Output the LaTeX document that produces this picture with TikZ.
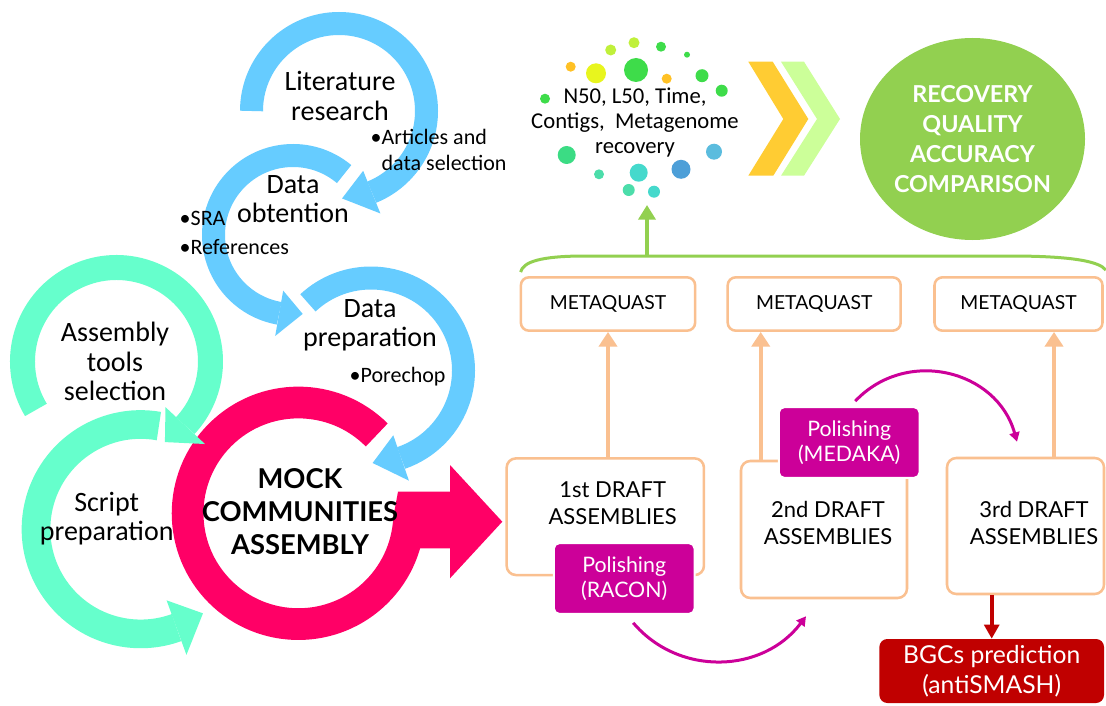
\documentclass[tikz,border=0pt]{standalone}
\usepackage{fontspec}
\setmainfont{Lato}
\newfontfamily\calfont{Carlito}
\usepackage{tikz}
\usetikzlibrary{arrows.meta}
\usetikzlibrary{shapes.geometric,calc}
\definecolor{ringblue}{RGB}{102,204,255}
\definecolor{ringteal}{RGB}{102,255,204}
\definecolor{mockpink}{RGB}{255,0,102}
\definecolor{peach}{RGB}{250,192,144}
\definecolor{polmagenta}{RGB}{204,0,153}
\definecolor{bgcred}{RGB}{192,0,0}
\definecolor{goalgreen}{RGB}{146,208,80}
\definecolor{chevorange}{RGB}{255,204,51}
\definecolor{chevgreen}{RGB}{204,255,153}
\definecolor{dotyellow}{RGB}{232,245,30}
\definecolor{dotorange}{RGB}{255,193,37}
\definecolor{dotlime}{RGB}{192,240,58}
\definecolor{dotgreen}{RGB}{62,220,74}
\definecolor{dotmint}{RGB}{59,220,132}
\definecolor{dotsea}{RGB}{76,221,170}
\definecolor{dotturq}{RGB}{69,217,204}
\definecolor{dotblue}{RGB}{77,159,216}
\definecolor{dotsky}{RGB}{91,188,222}
% #1 centre, #2 mid radius, #3 band width, #4 start angle, #5 end angle,
% #6 angle of the tip, #7 half base of the head, #8 colour
\newcommand{\cyclearrow}[8]{%
  \draw[#8,line width=#3] ($#1+(#4:#2)$) arc[start angle=#4,end angle=#5,radius=#2];
  \fill[#8] ($#1+({#5}:{#2-#7})$) -- ($#1+({#5}:{#2+#7})$)
    -- ($#1+({#6}:{#2})$) -- cycle;%
}

\begin{document}
\begin{tikzpicture}[x=0.75pt,y=-0.75pt,
    cycletext/.style={font=\calfont\fontsize{21}{22}\selectfont,align=center},
    bullettext/.style={font=\calfont\fontsize{16.5}{20}\selectfont,align=left,anchor=west},
    mocktext/.style={font=\bfseries\fontsize{20.5}{24.75}\selectfont,align=center},
    mqbox/.style={draw=peach,line width=1.9pt,rounded corners=6pt,minimum height=40pt,
      font=\fontsize{14.5}{17}\selectfont},
    draftbox/.style={draw=peach,line width=1.9pt,rounded corners=7pt},
    drafttext/.style={font=\fontsize{16.5}{20.5}\selectfont,align=center},
    polbox/.style={fill=polmagenta,draw=white,line width=1.5pt,rounded corners=4pt,
      text=white,font=\fontsize{16}{18.75}\selectfont,align=center,
      minimum width=105.5pt,minimum height=53pt},
    bgcbox/.style={fill=bgcred,rounded corners=6pt,text=white,align=center,
      font=\fontsize{18.5}{22.5}\selectfont,minimum width=168.5pt,minimum height=48pt},
    goal/.style={ellipse,fill=goalgreen,text=white,align=center,inner sep=0pt,
      font=\bfseries\fontsize{17.5}{22.5}\selectfont,minimum width=168.75pt,minimum height=151.5pt},
    uparrow/.style={peach,line width=3pt,-{Triangle[width=13.5pt,length=11pt]}},
    bgcarrow/.style={bgcred,line width=3pt,-{Triangle[width=11pt,length=10.5pt]}},
    polarrow/.style={polmagenta,line width=2.25pt,-{Triangle[width=7.5pt,length=7pt]}},
    cloudarrow/.style={goalgreen,line width=3pt,-{Triangle[width=12.75pt,length=11pt]}}]
  \useasboundingbox (0,0) rectangle (1106,706);
  \fill[white] (0,0) rectangle (1106,706);

  % the cycle of preparation steps
  \cyclearrow{(339,111)}{87.5}{17.25pt}{180}{428}{448}{23}{ringblue}
  \cyclearrow{(293,235)}{79.5}{17.25pt}{-50}{-260}{-277}{23}{ringblue}
  \cyclearrow{(371,370.5)}{92.5}{17.25pt}{227}{431}{449}{24}{ringblue}
  % assembly ring and its block arrow
  \draw[mockpink,line width=23.8pt] ($(298.4,513.3)+(-45:110.8)$)
    arc[start angle=-45,end angle=-360,radius=110.8];
  \fill[mockpink] (394,513.3) -- (398,491.7) -- (450,491.7) -- (450,465)
    -- (502.3,521.7) -- (450,578.3) -- (450,548.3) -- (410,548.3) -- cycle;
  \cyclearrow{(116.5,361.5)}{94}{18.75pt}{149}{403}{419}{27}{ringteal}
  \cyclearrow{(140.7,529.2)}{104.7}{21.5pt}{-80}{-290}{-306.5}{29}{ringteal}

  \node[cycletext] (littext) at (340,96) {Literature\\research};
  \node[cycletext] (obttext) at (293,199) {Data\\obtention};
  \node[cycletext] (preptext) at (370,325) {Data\\preparation};
  \node[cycletext] (toolstext) at (115,361.7) {Assembly\\tools\\selection};
  \node[cycletext] (scripttext) at (106.7,518.3) {Script\\preparation};
  \node[mocktext] (mocktext) at (300,511.7) {MOCK\\COMMUNITIES\\ASSEMBLY};
  \node[bullettext] (articles) at (366,150) {•Articles and\\\phantom{•}data selection};
  \node[bullettext] (sra) at (175,218) {•SRA};
  \node[bullettext] (refs) at (175,246.7) {•References};
  \node[bullettext] (porechop) at (345,376.7) {•Porechop};

  % metrics cloud
  \foreach \dx/\dy/\dr/\dc in {610.7/50/5.5/dotlime, 634/42.7/5.5/dotlime,
      661/46.7/5/dotgreen, 687/54.7/3/dotgreen, 570.7/66.7/5/dotorange,
      596/73.3/10/dotyellow, 636/70/12/dotgreen, 666.7/78.7/5/dotorange,
      702/75.7/6.5/dotgreen, 721.7/90.7/6/dotgreen, 545/98.7/5/dotgreen,
      566.7/155/9/dotmint, 599/174.3/5/dotsea, 638.7/172.7/9/dotturq,
      681/169.3/9.5/dotblue, 714/151.7/8/dotsky, 628.7/190/6/dotsea,
      654/191.7/6/dotturq}
    \fill[\dc] (\dx,\dy) circle[radius=\dr];
  \node[font=\calfont\fontsize{17}{18.75}\selectfont,align=center] (metrics) at (635,123)
    {N50, L50, Time,\\Contigs,~ Metagenome\\recovery};

  % chevrons and the goal
  \fill[chevorange] (748.3,61.7) -- (772.7,61.7) -- (808.3,119) -- (773.3,175.7)
    -- (748.3,175.7) -- (783.3,119) -- cycle;
  \fill[chevgreen] (781,61.7) -- (804,61.7) -- (840,119) -- (804,175.7)
    -- (781,175.7) -- (817,119) -- cycle;
  \node[goal] (goal) at (972.5,139) {RECOVERY\\QUALITY\\ACCURACY\\COMPARISON};

  % quality checks
  \node[mqbox,minimum width=130.7pt] (mq1) at (608,304) {METAQUAST};
  \node[mqbox,minimum width=129.75pt] (mq2) at (814.2,304) {METAQUAST};
  \node[mqbox,minimum width=126pt] (mq3) at (1018.5,304) {METAQUAST};
  \draw[goalgreen,line width=2.25pt] ($(mq1.north west)+(1,-4)$)
    .. controls (523,262) and (540,256) .. (585,256) -- (1010,256)
    .. controls (1075,256) and (1100,262) .. ($(mq3.north east)+(2,-6)$);
  \coordinate (stem) at (647,256);
  \coordinate (cloudbase) at (647,205);
  \draw[cloudarrow] (stem) -- (cloudbase);

  % draft assemblies
  \node[draftbox,minimum width=148pt,minimum height=87.5pt] (draft1) at (605.3,516.7) {};
  \node[drafttext] (d1text) at (612.7,503) {1st DRAFT\\ASSEMBLIES};
  \node[draftbox,minimum width=124.5pt,minimum height=102.75pt] (draft2) at (824,529.5) {};
  \node[drafttext] (d2text) at (828,523) {2nd DRAFT\\ASSEMBLIES};
  \node[draftbox,minimum width=117.75pt,minimum height=102pt] (draft3) at (1025.5,526) {};
  \node[drafttext] (d3text) at (1034,523) {3rd DRAFT\\ASSEMBLIES};
  \node[polbox] (racon) at (624.2,578.5) {Polishing\\(RACON)};
  \node[polbox] (medaka) at (849.2,442.5) {Polishing\\(MEDAKA)};
  \node[bgcbox] (bgc) at (991.7,671) {BGCs prediction\\(antiSMASH)};

  \draw[uparrow] (mq1.south |- draft1.north) -- (mq1.south);
  \draw[uparrow] ($(draft2.north west)+(21,0)$) coordinate (up2) -- (up2 |- mq2.south);
  \draw[uparrow] ($(draft3.north)+(28.5,0)$) coordinate (up3) -- (up3 |- mq3.south);
  \draw[bgcarrow] (bgc.north |- draft3.south) -- (bgc.north);
  \draw[polarrow] ($(racon.south)+(9,8)$) .. controls +(46,54) and +(-43,57)
    .. ($(draft2.south)+(-18,17)$);
  \draw[polarrow] ($(medaka.north)+(6,-5)$) .. controls +(51,-54) and +(-20,-72)
    .. ($(draft3.north)+(-8.5,-15)$);
\end{tikzpicture}
\end{document}
